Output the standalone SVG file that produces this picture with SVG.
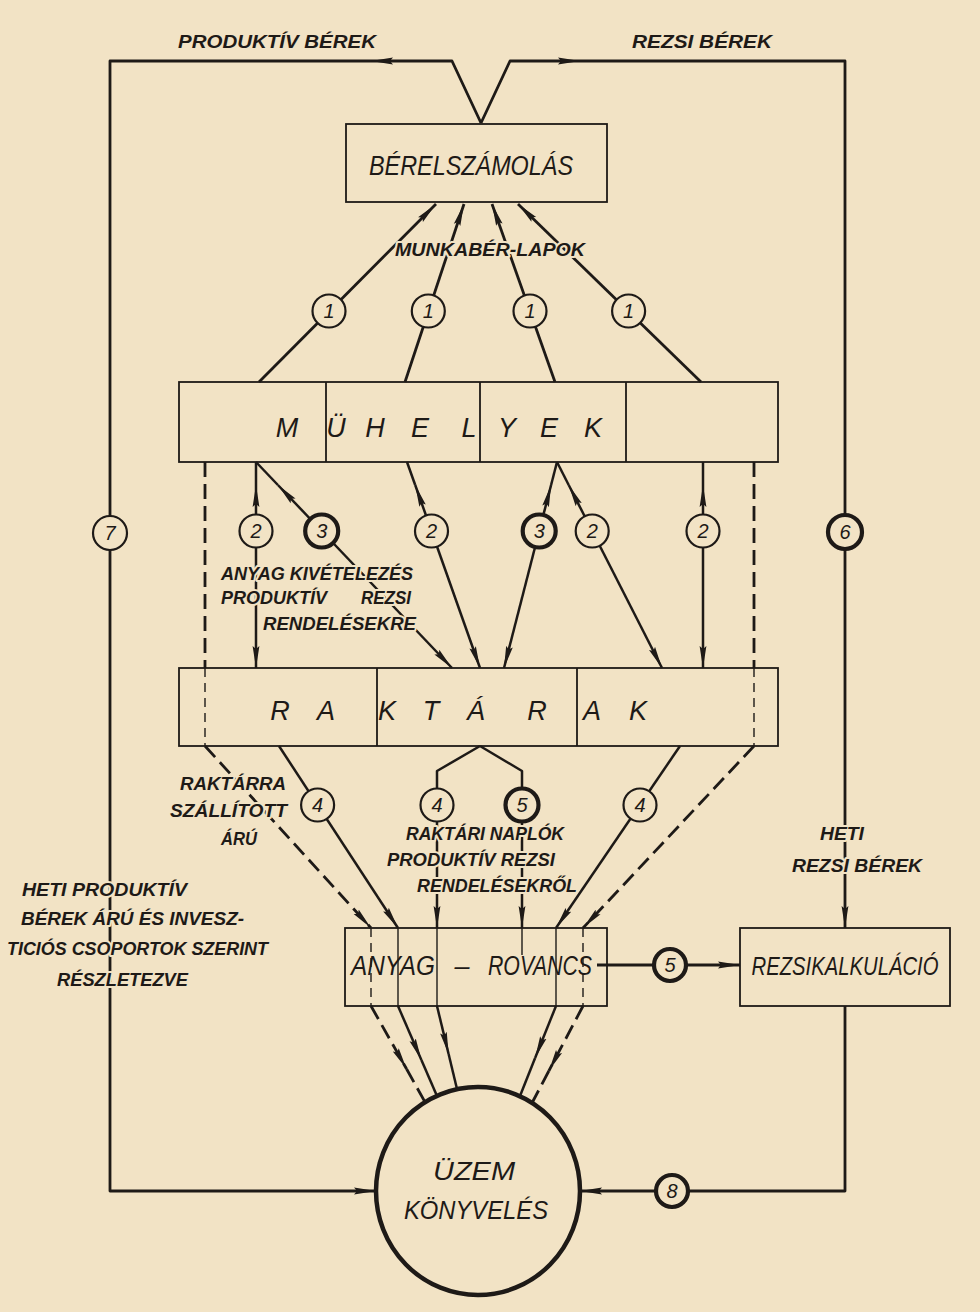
<svg xmlns="http://www.w3.org/2000/svg" width="980" height="1312" viewBox="0 0 980 1312">
<defs>
<style>
.ln{fill:none;stroke:#1e1a17;stroke-width:2.8;stroke-linejoin:round}
.ln2{fill:none;stroke:#1e1a17;stroke-width:2.5;stroke-linejoin:round}
.dash{fill:none;stroke:#1e1a17;stroke-width:2.8;stroke-dasharray:15 7}
.thin{fill:none;stroke:#1e1a17;stroke-width:1.4}
.thind{fill:none;stroke:#1e1a17;stroke-width:1.4;stroke-dasharray:9 6}
.box{fill:none;stroke:#1e1a17;stroke-width:1.8}
.c{fill:#f2e3c5;stroke:#1e1a17;stroke-width:2.2}
.cb{fill:#f2e3c5;stroke:#1e1a17;stroke-width:4.2}
.num{font-family:"Liberation Sans",Arial,sans-serif;font-style:italic;font-size:20px;fill:#1e1a17;text-anchor:middle}
.nt{font-family:"Liberation Sans",Arial,sans-serif;font-style:italic;font-size:27px;fill:#1e1a17}
.lbl{font-family:"Liberation Sans",Arial,sans-serif;font-style:italic;font-weight:bold;font-size:18px;fill:#1e1a17;stroke:#f2e3c5;stroke-width:4;paint-order:stroke;stroke-linejoin:round}
</style>
<marker id="ah" viewBox="0 0 22 8" refX="22" refY="4" markerWidth="22" markerHeight="8" markerUnits="userSpaceOnUse" orient="auto"><path d="M0,0.6 L22,4 L0,7.4 L3,4 Z" fill="#1e1a17"/></marker>
</defs>
<rect x="0" y="0" width="980" height="1312" fill="#f2e3c5"/>

<g id="connectors">
  <path class="ln" d="M481,123 L452,61 L371,61" marker-end="url(#ah)"/>
  <path class="ln" d="M371,61 L110,61 L110,1191 L376,1191" marker-end="url(#ah)"/>
  <path class="ln" d="M481,123 L510,61 L580,61" marker-end="url(#ah)"/>
  <path class="ln" d="M580,61 L845,61 L845,928" marker-end="url(#ah)"/>
  <path class="ln" d="M845,1006 L845,1191 L580,1191" marker-end="url(#ah)"/>
  <path class="ln" d="M597,965 L740,965" marker-end="url(#ah)"/>

  <path class="ln" d="M259,382 L436,204" marker-end="url(#ah)"/>
  <path class="ln" d="M405,382 L464,204" marker-end="url(#ah)"/>
  <path class="ln" d="M555,382 L492,204" marker-end="url(#ah)"/>
  <path class="ln" d="M701,382 L518,204" marker-end="url(#ah)"/>

  <path class="ln2" d="M256,531 L256,485" marker-end="url(#ah)"/>
  <path class="ln2" d="M256,485 L256,462"/>
  <path class="ln2" d="M256,531 L256,668" marker-end="url(#ah)"/>

  <path class="ln2" d="M321.7,531 L277.9,485" marker-end="url(#ah)"/>
  <path class="ln2" d="M277.9,485 L256,462"/>
  <path class="ln2" d="M321.7,531 L452,668" marker-end="url(#ah)"/>

  <path class="ln2" d="M431.5,531 L415.2,485" marker-end="url(#ah)"/>
  <path class="ln2" d="M415.2,485 L407,462"/>
  <path class="ln2" d="M431.5,531 L480,668" marker-end="url(#ah)"/>

  <path class="ln2" d="M539.2,531 L551.1,485" marker-end="url(#ah)"/>
  <path class="ln2" d="M551.1,485 L557,462"/>
  <path class="ln2" d="M539.2,531 L504,668" marker-end="url(#ah)"/>

  <path class="ln2" d="M592.2,531 L568.7,485" marker-end="url(#ah)"/>
  <path class="ln2" d="M568.7,485 L557,462"/>
  <path class="ln2" d="M592.2,531 L662,668" marker-end="url(#ah)"/>

  <path class="ln2" d="M703,531 L703,485" marker-end="url(#ah)"/>
  <path class="ln2" d="M703,485 L703,462"/>
  <path class="ln2" d="M703,531 L703,668" marker-end="url(#ah)"/>

  <path class="dash" d="M205,462 L205,668"/>
  <path class="thind" d="M205,668 L205,746"/>
  <path class="dash" d="M205,746 L371,928" marker-end="url(#ah)"/>
  <path class="thind" d="M371,928 L371,1006"/>
  <path class="dash" d="M371,1006 L406.6,1069" marker-end="url(#ah)"/>
  <path class="dash" d="M406.6,1069 L425,1102"/>

  <path class="dash" d="M754,462 L754,668"/>
  <path class="thind" d="M754,668 L754,746"/>
  <path class="dash" d="M754,746 L583,928" marker-end="url(#ah)"/>
  <path class="thind" d="M583,928 L583,1006"/>
  <path class="dash" d="M583,1006 L548.8,1071" marker-end="url(#ah)"/>
  <path class="dash" d="M548.8,1071 L532,1103"/>

  <path class="ln2" d="M279,746 L398,928" marker-end="url(#ah)"/>
  <path class="thin" d="M398,928 L398,1006"/>
  <path class="ln2" d="M398,1006 L421.4,1060" marker-end="url(#ah)"/>
  <path class="ln2" d="M421.4,1060 L437,1096"/>

  <path class="ln2" d="M480,746 L437,771 L437,928" marker-end="url(#ah)"/>
  <path class="thin" d="M437,928 L437,1006"/>
  <path class="ln2" d="M437,1006 L448.6,1054" marker-end="url(#ah)"/>
  <path class="ln2" d="M448.6,1054 L457,1089"/>

  <path class="ln2" d="M480,746 L522,771 L522,928" marker-end="url(#ah)"/>
  <path class="thin" d="M522,928 L522,955"/>

  <path class="ln2" d="M680,746 L556,928" marker-end="url(#ah)"/>
  <path class="thin" d="M556,928 L556,1006"/>
  <path class="ln2" d="M556,1006 L535.1,1058" marker-end="url(#ah)"/>
  <path class="ln2" d="M535.1,1058 L520,1096"/>

  <circle class="c" cx="329" cy="311" r="16.5"/><text class="num" x="329" y="318">1</text>
  <circle class="c" cx="428.3" cy="311" r="16.5"/><text class="num" x="428.3" y="318">1</text>
  <circle class="c" cx="530" cy="311" r="16.5"/><text class="num" x="530" y="318">1</text>
  <circle class="c" cx="628.6" cy="311" r="16.5"/><text class="num" x="628.6" y="318">1</text>

  <circle class="c" cx="256" cy="531" r="16.5"/><text class="num" x="256" y="538">2</text>
  <circle class="cb" cx="321.7" cy="531" r="16.5"/><text class="num" x="321.7" y="538">3</text>
  <circle class="c" cx="431.5" cy="531" r="16.5"/><text class="num" x="431.5" y="538">2</text>
  <circle class="cb" cx="539.2" cy="531" r="16.5"/><text class="num" x="539.2" y="538">3</text>
  <circle class="c" cx="592.2" cy="531" r="16.5"/><text class="num" x="592.2" y="538">2</text>
  <circle class="c" cx="703" cy="531" r="16.5"/><text class="num" x="703" y="538">2</text>

  <circle class="c" cx="110" cy="533" r="17"/><text class="num" x="110" y="540">7</text>
  <circle class="cb" cx="845" cy="532" r="17"/><text class="num" x="845" y="539">6</text>

  <circle class="c" cx="317.6" cy="805" r="16.5"/><text class="num" x="317.6" y="812">4</text>
  <circle class="c" cx="437" cy="805" r="16.5"/><text class="num" x="437" y="812">4</text>
  <circle class="cb" cx="522" cy="805" r="16.5"/><text class="num" x="522" y="812">5</text>
  <circle class="c" cx="640" cy="805" r="16.5"/><text class="num" x="640" y="812">4</text>

  <circle class="cb" cx="670" cy="965" r="16"/><text class="num" x="670" y="972">5</text>
  <circle class="cb" cx="672" cy="1191" r="16"/><text class="num" x="672" y="1198">8</text>
</g>

<g id="berelszamolas">
  <rect class="box" x="346" y="124" width="261" height="78"/>
  <text class="nt" x="369" y="175" textLength="204" lengthAdjust="spacingAndGlyphs">BÉRELSZÁMOLÁS</text>
</g>

<g id="muhelyek">
  <rect class="box" x="179" y="382" width="599" height="80"/>
  <path class="box" d="M326,382 V462 M480,382 V462 M626,382 V462"/>
  <text class="nt" y="437" text-anchor="middle"><tspan x="287">M</tspan><tspan x="336">Ü</tspan><tspan x="375">H</tspan><tspan x="420">E</tspan><tspan x="469">L</tspan><tspan x="507">Y</tspan><tspan x="549">E</tspan><tspan x="593">K</tspan></text>
</g>

<g id="raktarak">
  <rect class="box" x="179" y="668" width="599" height="78"/>
  <path class="box" d="M377,668 V746 M577,668 V746"/>
  <text class="nt" y="720" text-anchor="middle"><tspan x="280">R</tspan><tspan x="326">A</tspan><tspan x="387">K</tspan><tspan x="431">T</tspan><tspan x="476">Á</tspan><tspan x="537">R</tspan><tspan x="592">A</tspan><tspan x="638">K</tspan></text>
</g>

<g id="anyag-rovancs">
  <rect class="box" x="345" y="928" width="262" height="78"/>
  <text class="nt" x="351" y="975" textLength="84" lengthAdjust="spacingAndGlyphs">ANYAG</text>
  <text class="nt" x="462" y="975" text-anchor="middle">–</text>
  <text class="nt" x="488" y="975" textLength="104" lengthAdjust="spacingAndGlyphs">ROVANCS</text>
</g>

<g id="rezsikalkulacio">
  <rect class="box" x="740" y="928" width="210" height="78"/>
  <text class="nt" transform="translate(845,975) scale(0.78,1)" x="0" y="0" text-anchor="middle" style="font-size:26px">REZSIKALKULÁCIÓ</text>
</g>

<g id="uzem-konyveles">
  <ellipse cx="478" cy="1191" rx="102" ry="104" fill="#f2e3c5" stroke="#1e1a17" stroke-width="4.5"/>
  <text class="nt" x="433" y="1180" textLength="82" lengthAdjust="spacingAndGlyphs" style="font-size:25px">ÜZEM</text>
  <text class="nt" x="404" y="1219" textLength="144" lengthAdjust="spacingAndGlyphs" style="font-size:25px">KÖNYVELÉS</text>
</g>

<g id="labels">
  <text class="lbl" x="178" y="48" textLength="198" lengthAdjust="spacingAndGlyphs">PRODUKTÍV BÉREK</text>
  <text class="lbl" x="632" y="48" textLength="140" lengthAdjust="spacingAndGlyphs">REZSI BÉREK</text>
  <text class="lbl" x="395" y="256" textLength="190" lengthAdjust="spacingAndGlyphs">MUNKABÉR-LAPOK</text>
  <text class="lbl" x="221" y="580" textLength="192" lengthAdjust="spacingAndGlyphs">ANYAG KIVÉTELEZÉS</text>
  <text class="lbl" x="221" y="604" textLength="106" lengthAdjust="spacingAndGlyphs">PRODUKTÍV</text>
  <text class="lbl" x="361" y="604" textLength="50" lengthAdjust="spacingAndGlyphs">REZSI</text>
  <text class="lbl" x="263" y="630" textLength="153" lengthAdjust="spacingAndGlyphs">RENDELÉSEKRE</text>
  <text class="lbl" x="180" y="790" textLength="106" lengthAdjust="spacingAndGlyphs">RAKTÁRRA</text>
  <text class="lbl" x="170" y="817" textLength="117" lengthAdjust="spacingAndGlyphs">SZÁLLÍTOTT</text>
  <text class="lbl" x="221" y="845" textLength="36" lengthAdjust="spacingAndGlyphs">ÁRÚ</text>
  <text class="lbl" x="406" y="840" textLength="158" lengthAdjust="spacingAndGlyphs">RAKTÁRI NAPLÓK</text>
  <text class="lbl" x="387" y="866" textLength="168" lengthAdjust="spacingAndGlyphs">PRODUKTÍV REZSI</text>
  <text class="lbl" x="417" y="892" textLength="160" lengthAdjust="spacingAndGlyphs">RENDELÉSEKRŐL</text>
  <text class="lbl" x="820" y="840" textLength="44" lengthAdjust="spacingAndGlyphs">HETI</text>
  <text class="lbl" x="792" y="872" textLength="130" lengthAdjust="spacingAndGlyphs">REZSI BÉREK</text>
  <text class="lbl" x="22" y="896" textLength="165" lengthAdjust="spacingAndGlyphs">HETI PRODUKTÍV</text>
  <text class="lbl" x="21" y="925" textLength="223" lengthAdjust="spacingAndGlyphs">BÉREK ÁRÚ ÉS INVESZ-</text>
  <text class="lbl" x="7" y="955" textLength="261" lengthAdjust="spacingAndGlyphs">TICIÓS CSOPORTOK SZERINT</text>
  <text class="lbl" x="57" y="986" textLength="131" lengthAdjust="spacingAndGlyphs">RÉSZLETEZVE</text>
</g>
</svg>
